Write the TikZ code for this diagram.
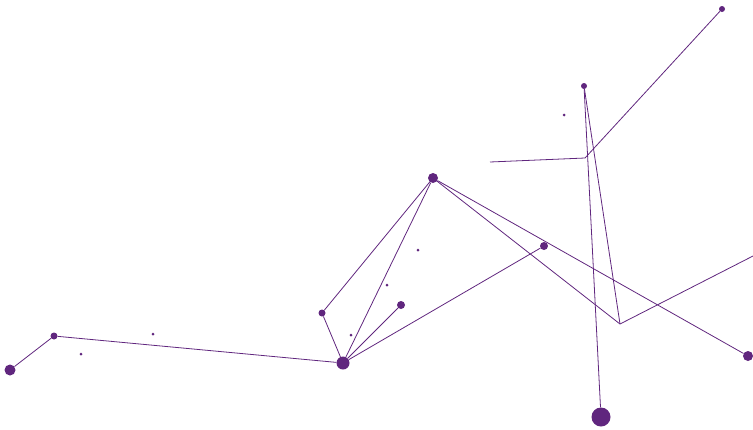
\documentclass[tikz,border=0pt]{standalone}
\usepackage{xcolor}
\definecolor{netpurple}{RGB}{96,38,126}

\begin{document}
\begin{tikzpicture}[x=1pt, y=-1pt, every node/.style={circle, fill=netpurple, inner sep=0pt},
  link/.style={draw=netpurple, line width=0.8pt}]
  \useasboundingbox (0,0) rectangle (753,429);
  % dots
  \node[minimum size=11pt] (a) at (10,370) {};
  \node[minimum size=7pt] (b) at (54,336) {};
  \node[minimum size=13pt] (c) at (343,363) {};
  \node[minimum size=7pt] (d) at (322,313) {};
  \node[minimum size=10pt] (e) at (433,178) {};
  \node[minimum size=8pt] (f) at (401,305) {};
  \node[minimum size=8pt] (g) at (544,246) {};
  \node[minimum size=10pt] (j) at (748,356) {};
  \node[minimum size=19pt] (k) at (601,417) {};
  \node[minimum size=6pt] (l) at (584,86) {};
  \node[minimum size=6pt] (o) at (722,9) {};
  \coordinate (h) at (620,324);
  \coordinate (i) at (753,256);
  \coordinate (m) at (585,158);
  \coordinate (n) at (490,162);
  % specks
  \foreach \px/\py in {153/334, 81/354, 418/250, 387/285, 351/335, 564/115}
    \node[minimum size=3pt] at (\px,\py) {};
  % links
  \draw[link] (a) -- (b) -- (c);
  \draw[link] (c) -- (d) -- (e) -- (c);
  \draw[link] (c) -- (f);
  \draw[link] (c) -- (g);
  \draw[link] (e) -- (j);
  \draw[link] (e) -- (h) -- (i);
  \draw[link] (l) -- (h);
  \draw[link] (l) -- (k);
  \draw[link] (n) -- (m) -- (o);
\end{tikzpicture}
\end{document}
